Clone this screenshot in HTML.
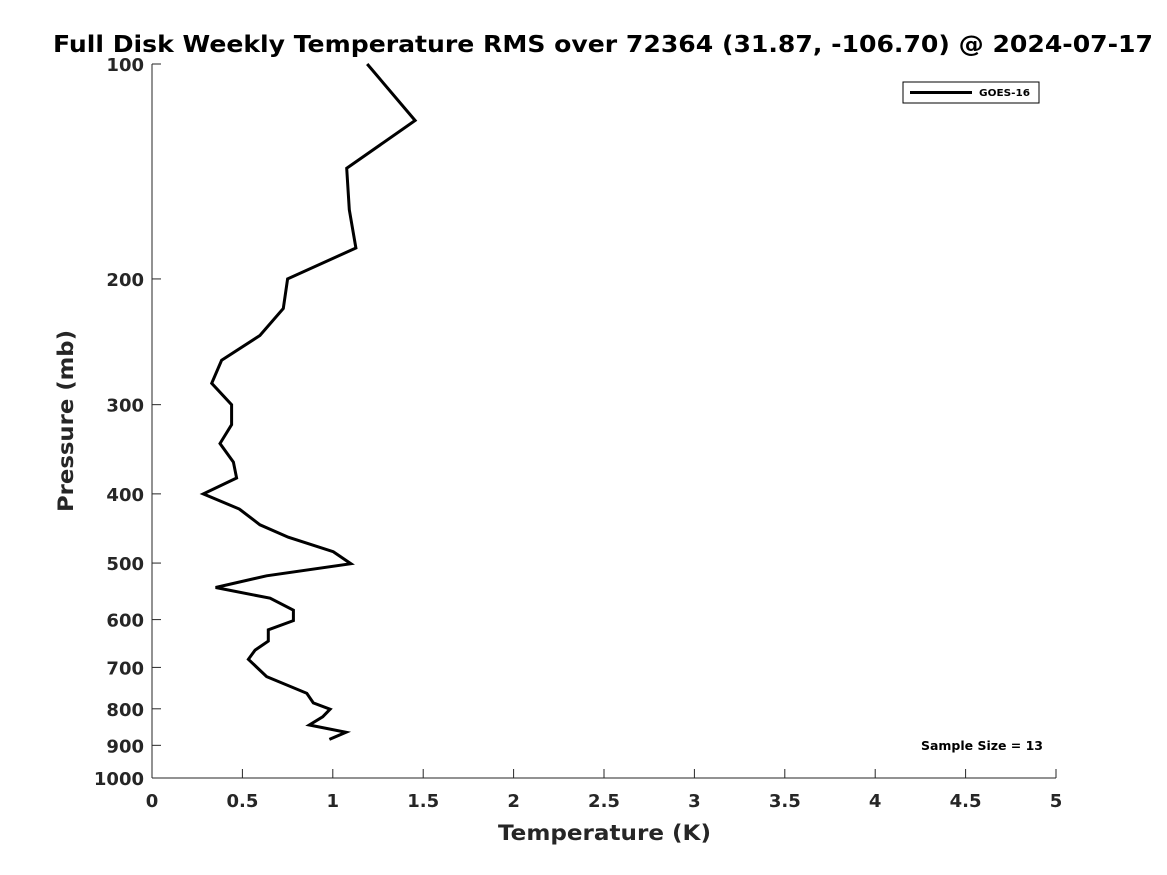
<!DOCTYPE html>
<html><head><meta charset="utf-8"><style>
html,body{margin:0;padding:0;background:#fff;}
svg{display:block;font-family:"DejaVu Sans","Liberation Sans",sans-serif;}
</style></head><body>
<svg id="chart" width="1167" height="875" xmlns="http://www.w3.org/2000/svg">
<rect width="1167" height="875" fill="#fff"/>
<text x="53" y="52" font-size="23" font-weight="bold" fill="#000" textLength="1100" lengthAdjust="spacingAndGlyphs">Full Disk Weekly Temperature RMS over 72364 (31.87, -106.70) @ 2024-07-17</text>
<g id="axes"></g>
<text x="498" y="840" font-size="21" font-weight="bold" fill="#262626" textLength="213" lengthAdjust="spacingAndGlyphs">Temperature (K)</text>
<text transform="translate(73,512) rotate(-90)" font-size="21" font-weight="bold" fill="#262626" textLength="182" lengthAdjust="spacingAndGlyphs">Pressure (mb)</text>
<g>
<rect x="903" y="82" width="136" height="21" fill="#fff" stroke="#000" stroke-width="1"/>
<line x1="910" y1="92.5" x2="972" y2="92.5" stroke="#000" stroke-width="3"/>
<text x="979" y="96" font-size="9.5" font-weight="bold" textLength="51" lengthAdjust="spacingAndGlyphs">GOES-16</text>
</g>
<text x="921" y="750" font-size="12" font-weight="bold" textLength="122" lengthAdjust="spacingAndGlyphs">Sample Size = 13</text>
</svg>
<script>
const temps = [1.19,1.455,1.077,1.091,1.128,0.75,0.726,0.597,0.385,0.33,0.44,0.44,0.376,0.45,0.468,0.284,0.483,0.597,0.754,1.003,1.10,0.634,0.352,0.653,0.782,0.782,0.643,0.643,0.57,0.533,0.634,0.856,0.892,0.985,0.944,0.87,1.073,0.981];
const pressures = [100,120,140,160,181,200,220,240,260,280,300,320,340,361,380,400,420,442,460,482,501,521,541,560,582,602,620,643,662,682,721,761,785,801,821,843,863,883];
const xTicks = [0,0.5,1,1.5,2,2.5,3,3.5,4,4.5,5];
const xTickLabels = ["0","0.5","1","1.5","2","2.5","3","3.5","4","4.5","5"];
const yTicks = [100,200,300,400,500,600,700,800,900,1000];
const yTickLabels = ["100","200","300","400","500","600","700","800","900","1000"];

const L=152,R=1056,T=64,B=778;
const xs=v=>L+(v-0)/(5-0)*(R-L);
const ys=p=>T+(Math.log10(p)-2)/(3-2)*(B-T);
const NS="http://www.w3.org/2000/svg";
const svg=document.getElementById('chart');
const g=document.getElementById('axes');
function mk(tag,attrs,parent){const e=document.createElementNS(NS,tag);for(const k in attrs)e.setAttribute(k,attrs[k]);(parent||g).appendChild(e);return e;}

const xa=mk('line',{x1:L,y1:B,x2:R,y2:B,stroke:'#262626','stroke-width':1});


const ya=mk('line',{x1:L,y1:T,x2:L,y2:B,stroke:'#262626','stroke-width':1});



xTicks.forEach((v,i)=>{
  const x=xs(v);
  mk('line',{x1:x,y1:B,x2:x,y2:B-9,stroke:'#262626','stroke-width':1});
  const t=mk('text',{x:x,y:B+29,'text-anchor':'middle','font-size':18,'font-weight':'bold',fill:'#262626'});
  t.textContent=xTickLabels[i];
  
  
});
yTicks.forEach((p,i)=>{
  const y=ys(p);
  mk('line',{x1:L,y1:y,x2:L+9,y2:y,stroke:'#262626','stroke-width':1});
  const t=mk('text',{x:L-8,y:y+7,'text-anchor':'end','font-size':18,'font-weight':'bold',fill:'#262626'});
  t.textContent=yTickLabels[i];
  
  
});
const pts=temps.map((v,i)=>xs(v).toFixed(1)+','+ys(pressures[i]).toFixed(1)).join(' ');
const line=mk('polyline',{points:pts,fill:'none',stroke:'#000','stroke-width':3,'stroke-linejoin':'miter'},svg);


</script>
</body></html>
